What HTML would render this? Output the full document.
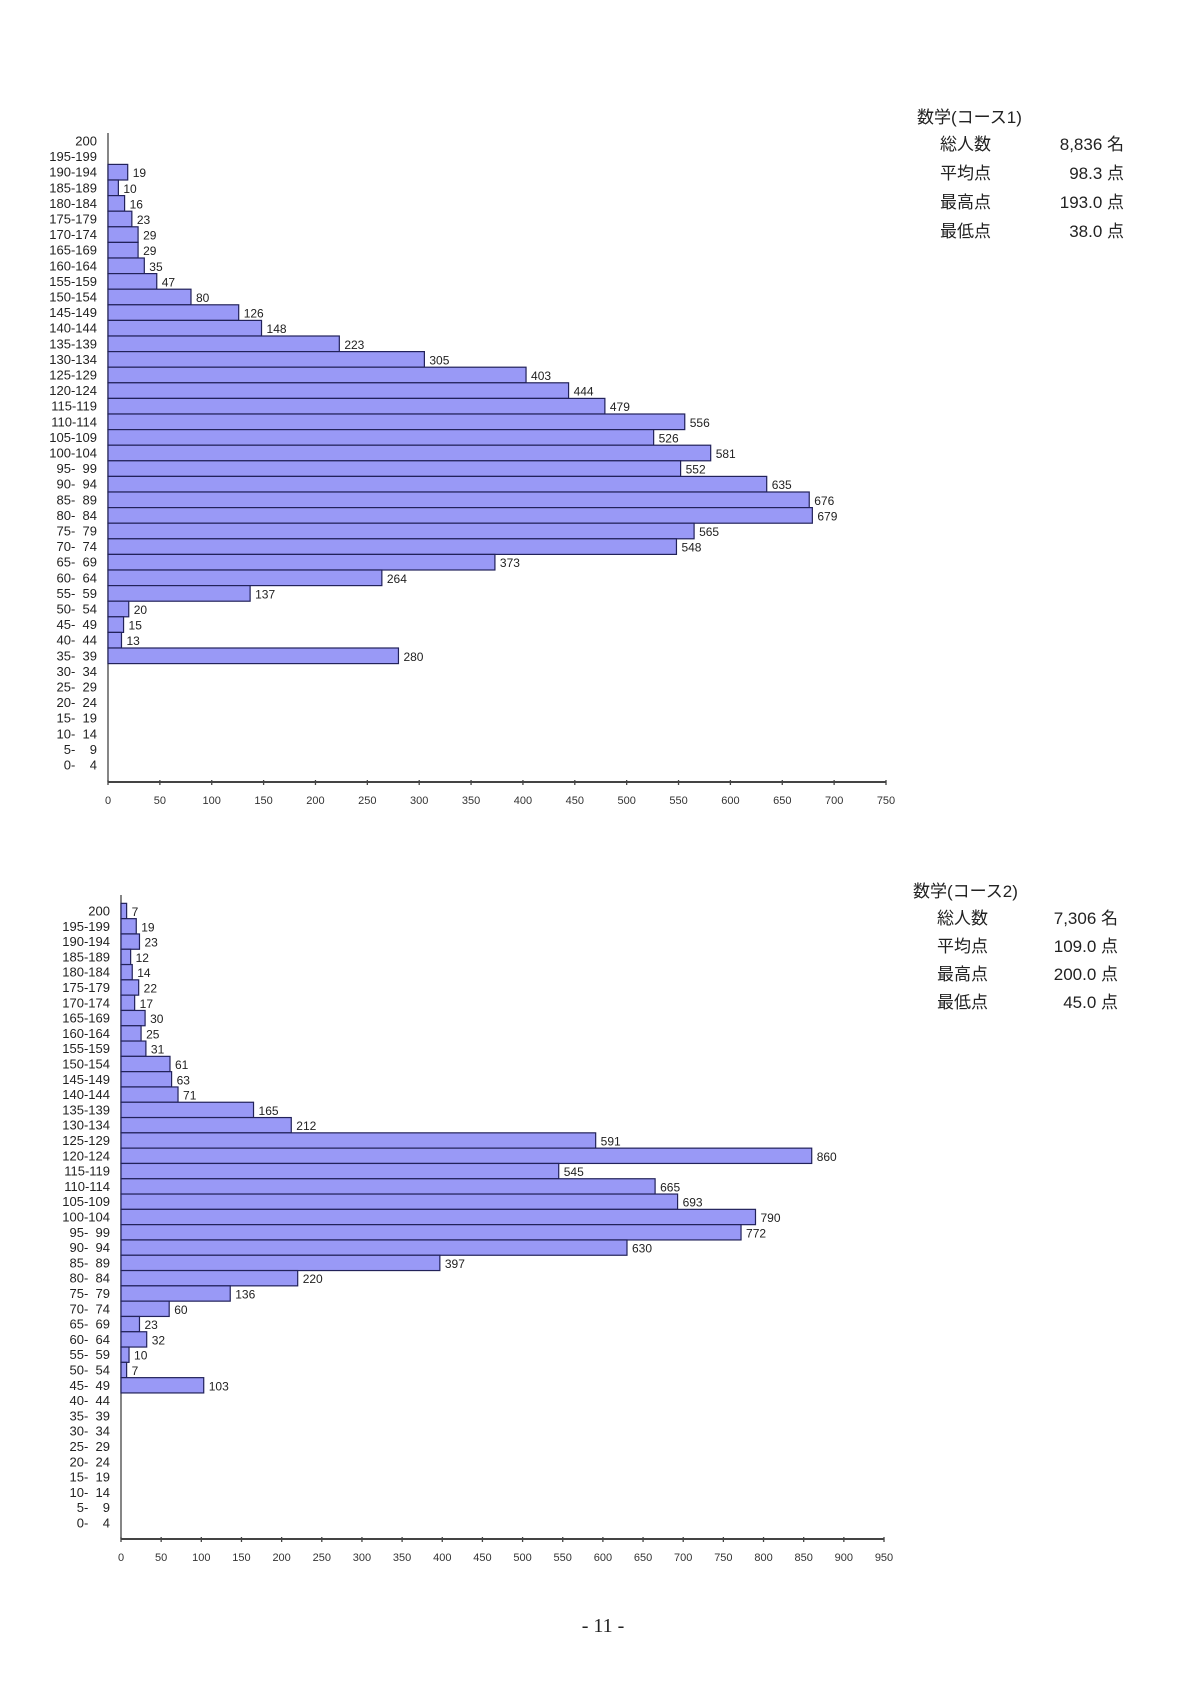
<!DOCTYPE html>
<html><head><meta charset="utf-8">
<style>
body{margin:0;background:#fff;}
svg{display:block;}
text{font-family:"Liberation Sans","Noto Sans CJK JP",sans-serif;}
</style></head>
<body>
<svg id="page" width="1200" height="1697" viewBox="0 0 1200 1697" xmlns="http://www.w3.org/2000/svg">
<g id="c1"></g>
<g id="c2"></g>
<g font-size="17" fill="#222">
<text x="917" y="123">数学(コース1)</text>
<text x="940" y="150">総人数</text><text x="1124" y="150" text-anchor="end">8,836 名</text>
<text x="940" y="179">平均点</text><text x="1124" y="179" text-anchor="end">98.3 点</text>
<text x="940" y="208">最高点</text><text x="1124" y="208" text-anchor="end">193.0 点</text>
<text x="940" y="237">最低点</text><text x="1124" y="237" text-anchor="end">38.0 点</text>
</g>
<g font-size="17" fill="#222">
<text x="913" y="897">数学(コース2)</text>
<text x="937" y="924">総人数</text><text x="1118" y="924" text-anchor="end">7,306 名</text>
<text x="937" y="952">平均点</text><text x="1118" y="952" text-anchor="end">109.0 点</text>
<text x="937" y="980">最高点</text><text x="1118" y="980" text-anchor="end">200.0 点</text>
<text x="937" y="1008">最低点</text><text x="1118" y="1008" text-anchor="end">45.0 点</text>
</g>
<text x="603" y="1632" text-anchor="middle" font-size="20" style="font-family:'Liberation Serif',serif" fill="#222">- 11 -</text>
</svg>
<script>
const categories = ["200","195-199","190-194","185-189","180-184","175-179","170-174","165-169","160-164","155-159","150-154","145-149","140-144","135-139","130-134","125-129","120-124","115-119","110-114","105-109","100-104","95- 99","90- 94","85- 89","80- 84","75- 79","70- 74","65- 69","60- 64","55- 59","50- 54","45- 49","40- 44","35- 39","30- 34","25- 29","20- 24","15- 19","10- 14","5-  9","0-  4"];
const course1Values = [0,0,19,10,16,23,29,29,35,47,80,126,148,223,305,403,444,479,556,526,581,552,635,676,679,565,548,373,264,137,20,15,13,280,0,0,0,0,0,0,0];
const course2Values = [7,19,23,12,14,22,17,30,25,31,61,63,71,165,212,591,860,545,665,693,790,772,630,397,220,136,60,23,32,10,7,103,0,0,0,0,0,0,0,0,0];
const course1Ticks = [0,50,100,150,200,250,300,350,400,450,500,550,600,650,700,750];
const course2Ticks = [0,50,100,150,200,250,300,350,400,450,500,550,600,650,700,750,800,850,900,950];
const NS="http://www.w3.org/2000/svg";
function mk(p,t,a){const e=document.createElementNS(NS,t);for(const k in a)e.setAttribute(k,a[k]);p.appendChild(e);return e;}
function draw(g,vals,ticks,o){
  const xs=v=>o.x0+(v-ticks[0])/(ticks[ticks.length-1]-ticks[0])*(o.x1-o.x0);
  const ys=i=>o.yTop+i*o.step;
  const ax=mk(g,'line',{x1:o.x0,y1:o.axTop,x2:o.x0,y2:o.axY,stroke:'#444','stroke-width':1.3});
  
  
  const bx=mk(g,'line',{x1:o.x0,y1:o.axY,x2:o.x1,y2:o.axY,stroke:'#444','stroke-width':2});
  
  
  ticks.forEach(t=>{
    const tl=mk(g,'line',{x1:xs(t),y1:o.axY-2,x2:xs(t),y2:o.axY+3,stroke:'#444','stroke-width':1.3});
    
    
    const tx=mk(g,'text',{x:xs(t),y:o.axY+22,'text-anchor':'middle','font-size':11,fill:'#333'});
    tx.textContent=t;
    
    
  });
  categories.forEach((c,i)=>{
    const y=ys(i);
    const l=mk(g,'text',{x:o.lx,y:y+4.5,'text-anchor':'end','font-size':13,fill:'#222',style:'white-space:pre'});
    l.textContent=c.replace(/ /g,'\u2007');
    
    
    const v=vals[i];
    if(v>0){
      const r=mk(g,'rect',{x:o.x0,y:y-o.step/2,width:xs(v)-o.x0,height:o.step,fill:'#9999f6',stroke:'#22225a','stroke-width':1.2});
      
      
      const t=mk(g,'text',{x:xs(v)+5,y:y+5,'font-size':12,fill:'#222'});
      t.textContent=v;
      
      
    }
  });
}
draw(document.getElementById('c1'),course1Values,course1Ticks,{x0:108,x1:886,axY:782,axTop:133,yTop:141,step:15.6,lx:97});
draw(document.getElementById('c2'),course2Values,course2Ticks,{x0:121,x1:884,axY:1539,axTop:895,yTop:911,step:15.3,lx:110});
</script>
</body></html>
